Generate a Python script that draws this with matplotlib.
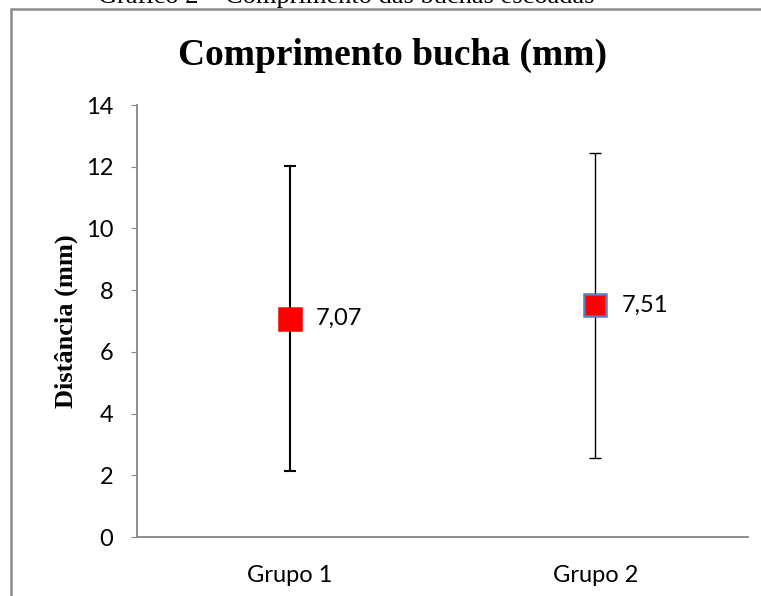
import matplotlib.pyplot as plt
from matplotlib.patches import Rectangle

grupos = ['Grupo 1', 'Grupo 2']
medias = [7.07, 7.51]
desvios = [4.94, 4.95]
rotulos = ['7,07', '7,51']
bordas = ['red', '#4f81bd']
espessuras = [1.5, 1.0]

fig = plt.figure(figsize=(7.61, 5.96), dpi=100)

# moldura cinza do grafico
fig.patches.append(Rectangle((10.5 / 761, -0.05), 1.0, 1.05 - 9.5 / 596, transform=fig.transFigure,
                             fill=False, edgecolor='#8c8c8c', linewidth=1.8, zorder=0))

# legenda cortada no topo
fig.text(0.455, 1 - 3 / 596, 'Gráfico 2 – Comprimento das buchas escoadas', ha='center', va='baseline',
         family='Liberation Serif', fontsize=19)

ax = fig.add_axes([137 / 761, 59 / 596, 611 / 761, 432 / 596])
x = [0.5, 1.5]
for i in range(len(grupos)):
    ax.errorbar(x[i], medias[i], yerr=desvios[i], fmt='none', ecolor='black', elinewidth=espessuras[i],
                capsize=4.5, capthick=espessuras[i], zorder=2)
    ax.plot(x[i], medias[i], 's', markersize=16, markerfacecolor='red', markeredgecolor=bordas[i],
            markeredgewidth=1.8, zorder=3)
    ax.annotate(rotulos[i], (x[i], medias[i]), xytext=(19, 0), textcoords='offset points',
                ha='left', va='center', family='Lato', fontsize=17)

ax.set_xlim(0, 2)
ax.set_ylim(0, 14)
ax.set_yticks(range(0, 15, 2))
ax.set_xticks(x)
ax.set_xticklabels(grupos, family='Lato', fontsize=17)
for t in ax.get_yticklabels():
    t.set_family('Lato')
    t.set_fontsize(17)
ax.tick_params(axis='x', length=0, pad=20)
ax.tick_params(axis='y', length=4, color='#868686', pad=13)
for s in ['top', 'right']:
    ax.spines[s].set_visible(False)
for s in ['left', 'bottom']:
    ax.spines[s].set_color('#868686')
    ax.spines[s].set_linewidth(1.3)

ax.set_ylabel('Distância (mm)', family='Liberation Serif', fontweight='bold', fontsize=19, labelpad=6)
fig.text(392 / 761, 1 - 55 / 596, 'Comprimento bucha (mm)', ha='center', va='center',
         family='Liberation Serif', fontweight='bold', fontsize=27)

fig.savefig('out.png', dpi=100)
